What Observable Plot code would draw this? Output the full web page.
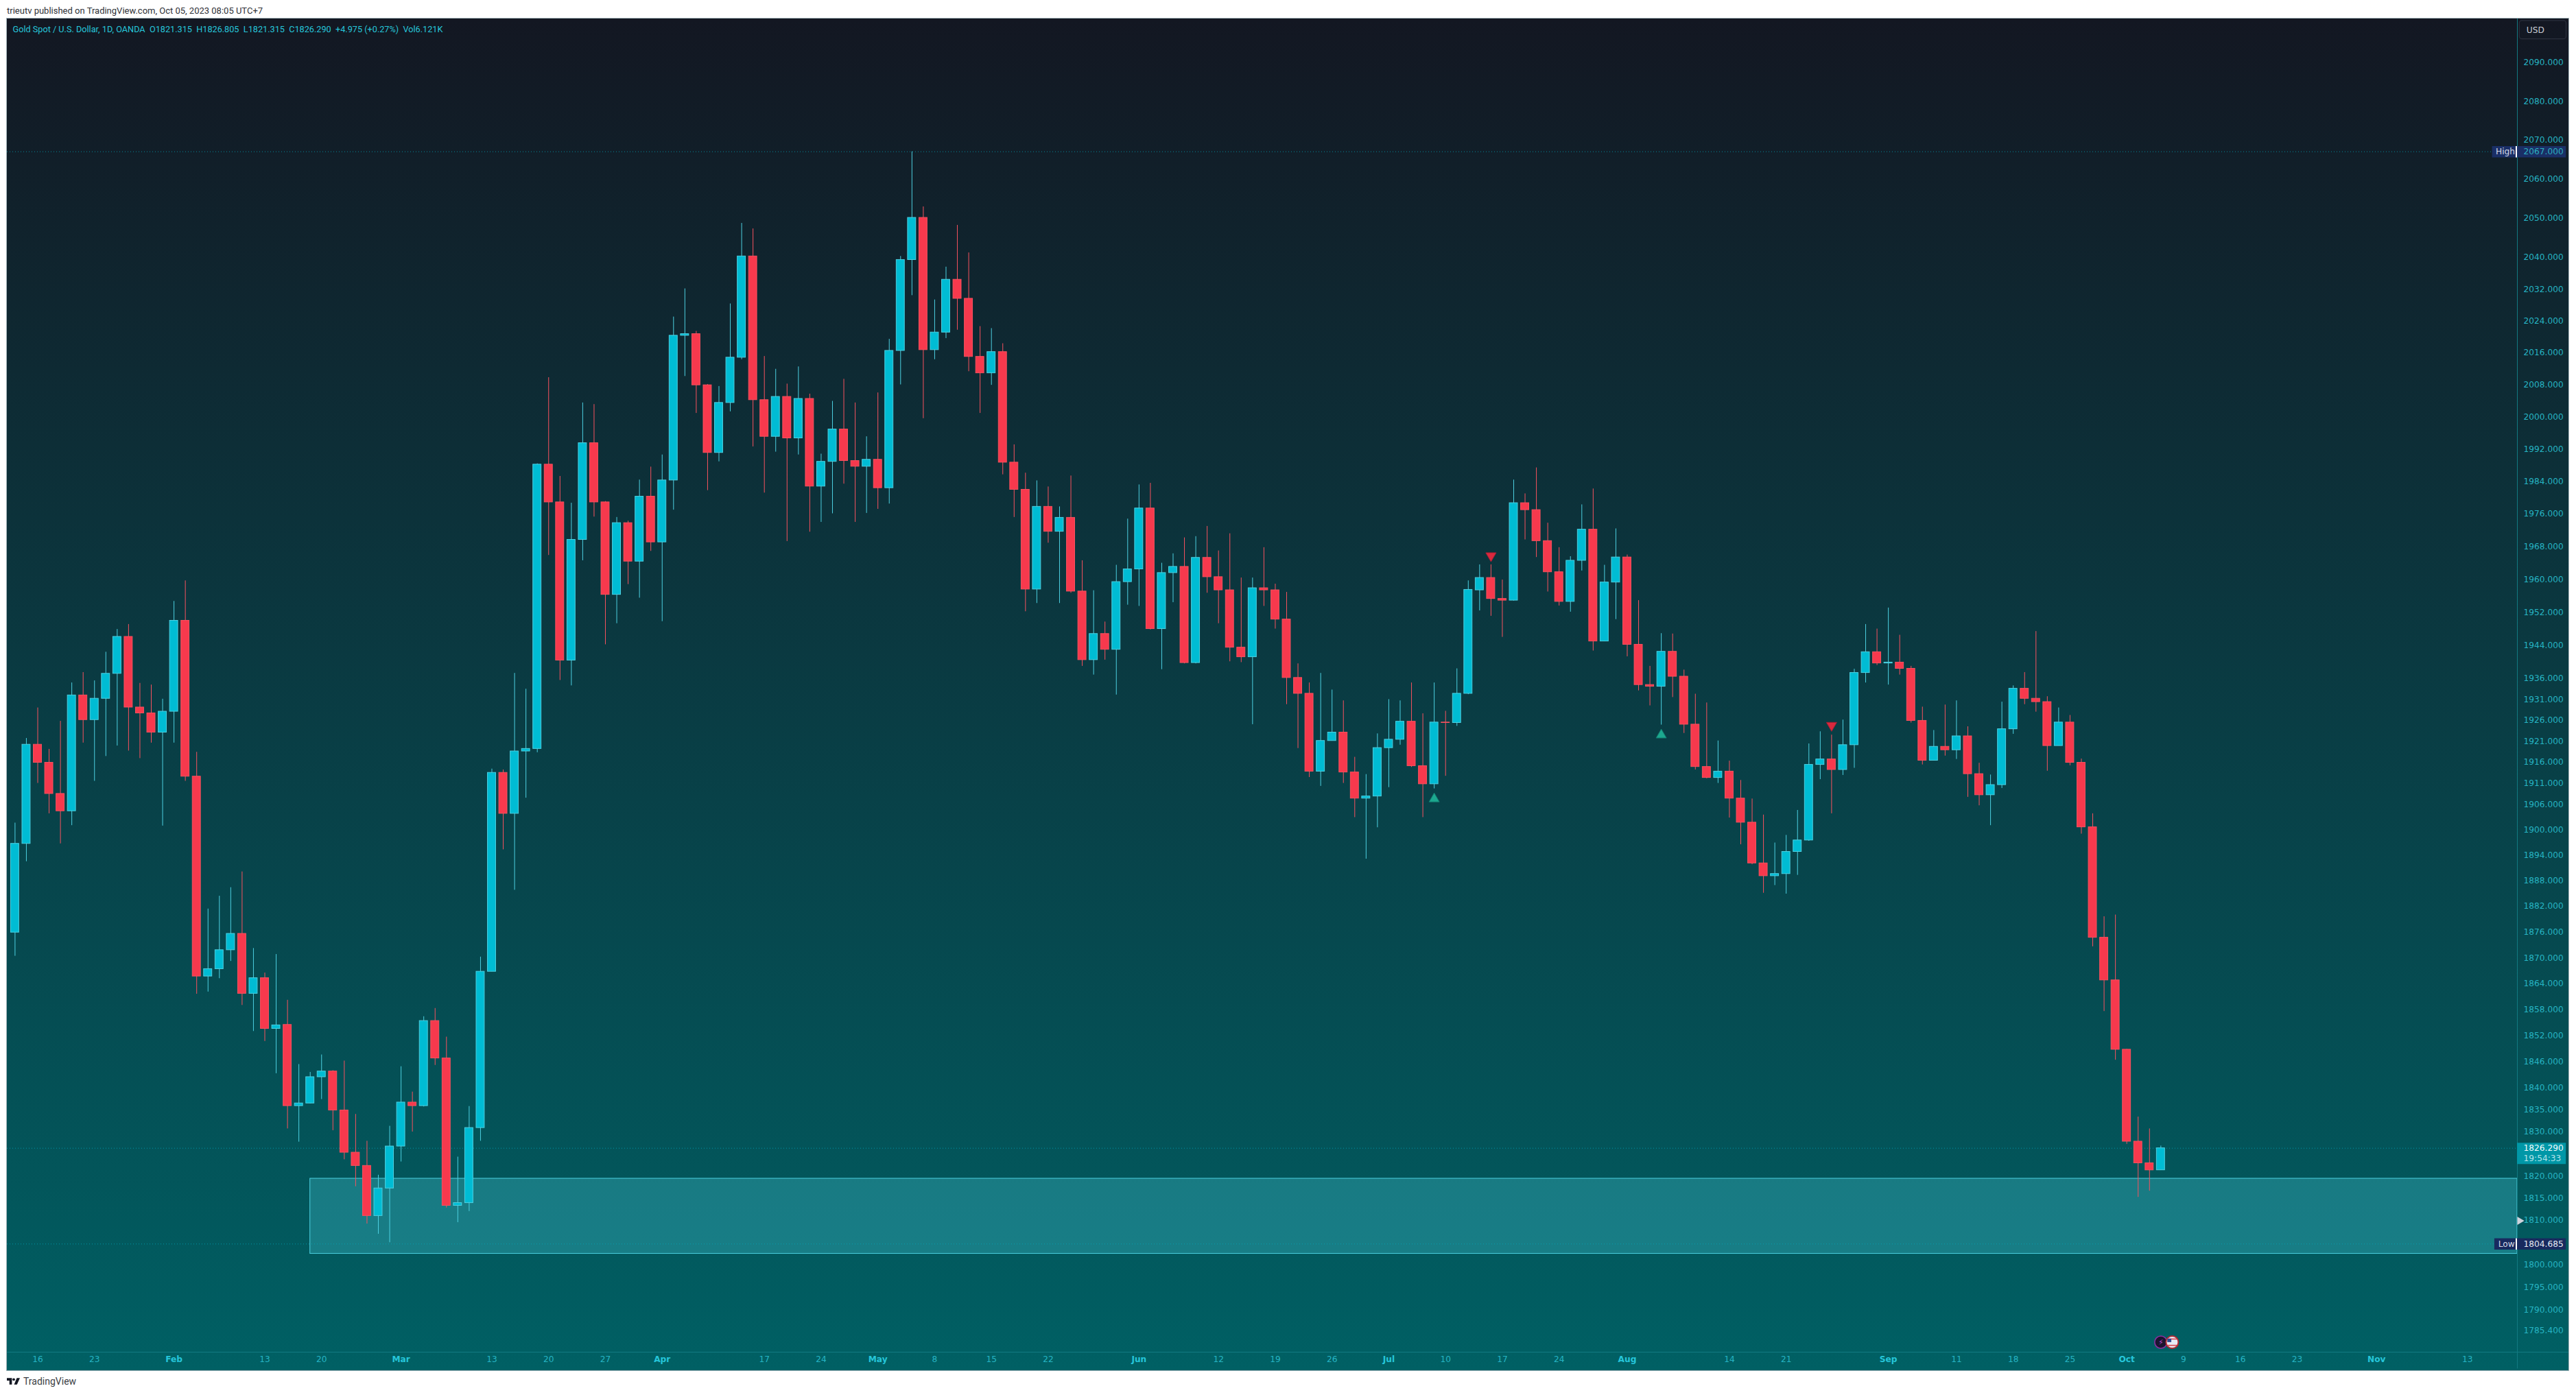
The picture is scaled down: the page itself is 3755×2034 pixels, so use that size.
<!DOCTYPE html>
<html>
<head>
<meta charset="utf-8">
<script src="https://cdn.jsdelivr.net/npm/d3@7"></script>
<script src="https://cdn.jsdelivr.net/npm/@observablehq/plot@0.6"></script>
<style>
html,body{margin:0;padding:0;background:#fff;width:3755px;height:2034px;overflow:hidden}
#head{height:27px;padding-left:10px;font:13px/32px Roboto,sans-serif;color:#2f3238;white-space:pre;box-sizing:border-box}
#chart{margin-left:10px;width:3734px;height:1971px;outline:1px solid #a5b5bb}
#chart svg{display:block}
#foot{height:32px;padding-left:10px;display:flex;align-items:center;gap:5px;font:14px Roboto,sans-serif;color:#3a3d44}
</style>
</head>
<body>
<div id="head">trieutv published on TradingView.com, Oct 05, 2023 08:05 UTC+7</div>
<div id="chart"></div>
<div id="foot"><svg width="19" height="10" viewBox="0 0 36 18"><path fill="#131722" d="M14 18H7V7H0V0h14zM28 18h-8L27.5 0H36z"/><circle cx="19" cy="4" r="3.6" fill="#131722"/></svg><span>TradingView</span></div>
<script>
const opens=[1875.9,1896.7,1920.2,1915.9,1908.5,1904.4,1932.0,1926.1,1931.2,1937.2,
1946.1,1929.1,1927.7,1923.1,1928.1,1950.0,1912.6,1865.7,1867.4,1871.8,
1875.6,1861.7,1865.3,1853.6,1854.5,1835.9,1836.5,1842.5,1843.8,1834.9,
1825.3,1822.3,1811.0,1817.2,1826.7,1836.7,1835.9,1855.4,1846.8,1813.3,
1813.9,1830.9,1866.8,1913.5,1903.8,1918.6,1919.2,1988.2,1978.9,1940.4,
1969.7,1993.5,1978.9,1956.3,1973.8,1964.4,1980.3,1969.1,1984.3,2020.3,
2020.7,2007.9,1991.1,2003.5,2014.8,2040.3,2004.2,1995.1,2005.0,1994.7,
2004.5,1982.8,1988.9,1996.9,1989.1,1987.7,1989.4,1982.4,2016.5,2039.4,
2050.1,2016.7,2021.1,2034.4,2029.6,2015.0,2010.9,2016.2,1988.7,1982.0,
1957.6,1977.8,1971.7,1975.1,1957.1,1940.5,1946.8,1943.0,1959.4,1962.5,
1977.4,1948.0,1961.6,1963.1,1939.8,1965.3,1960.6,1957.4,1943.5,1941.2,
1957.9,1957.4,1950.3,1936.2,1932.4,1913.8,1921.1,1923.1,1913.6,1907.4,
1907.9,1919.4,1921.4,1925.7,1915.1,1910.8,1925.5,1925.4,1932.4,1957.4,
1960.4,1955.3,1954.9,1978.7,1977.0,1969.4,1961.8,1954.6,1964.6,1972.2,
1945.0,1959.3,1965.4,1944.2,1934.5,1934.1,1942.5,1936.5,1925.0,1914.9,
1912.3,1913.8,1907.4,1901.7,1892.1,1889.1,1889.6,1894.8,1897.5,1915.4,
1916.7,1914.2,1920.1,1937.4,1942.4,1939.7,1939.9,1938.4,1925.9,1916.4,
1919.7,1918.9,1922.2,1913.2,1908.2,1910.6,1923.9,1933.6,1931.2,1930.4,
1919.9,1925.5,1915.9,1900.6,1874.7,1864.8,1848.8,1827.8,1822.9,1821.315];
const closes=[1896.7,1920.2,1915.9,1908.5,1904.4,1932.0,1926.1,1931.2,1937.2,1946.1,
1929.1,1927.7,1923.1,1928.1,1950.0,1912.6,1865.7,1867.4,1871.8,1875.6,
1861.7,1865.3,1853.6,1854.4,1835.9,1836.5,1842.5,1843.8,1834.9,1825.3,
1822.3,1811.0,1817.2,1826.7,1836.7,1835.9,1855.4,1846.8,1813.3,1813.9,
1830.9,1866.8,1913.5,1903.8,1918.6,1919.2,1988.2,1978.9,1940.4,1969.7,
1993.5,1978.9,1956.3,1973.8,1964.4,1980.3,1969.1,1984.3,2020.3,2020.7,
2007.9,1991.1,2003.5,2014.8,2040.3,2004.2,1995.1,2005.0,1994.7,2004.5,
1982.8,1988.9,1996.9,1989.1,1987.7,1989.4,1982.4,2016.5,2039.4,2050.1,
2016.7,2021.1,2034.4,2029.6,2015.0,2010.9,2016.2,1988.7,1982.0,1957.6,
1977.8,1971.7,1975.1,1957.1,1940.5,1946.8,1943.0,1959.4,1962.5,1977.4,
1948.0,1961.6,1963.1,1939.8,1965.3,1960.6,1957.4,1943.5,1941.2,1957.9,
1957.4,1950.3,1936.2,1932.4,1913.8,1921.1,1923.1,1913.6,1907.4,1907.9,
1919.4,1921.4,1925.7,1915.1,1910.8,1925.5,1925.4,1932.4,1957.5,1960.4,
1955.3,1954.9,1978.7,1977.0,1969.4,1961.8,1954.6,1964.6,1972.2,1945.0,
1959.3,1965.4,1944.2,1934.5,1934.1,1942.5,1936.5,1925.0,1914.9,1912.3,
1913.8,1907.4,1901.7,1892.1,1889.1,1889.6,1894.8,1897.5,1915.4,1916.7,
1914.2,1920.1,1937.4,1942.4,1939.7,1939.9,1938.4,1925.9,1916.4,1919.7,
1918.9,1922.2,1913.2,1908.2,1910.6,1923.9,1933.6,1931.2,1930.4,1919.9,
1925.5,1915.9,1900.6,1874.7,1864.8,1848.8,1827.8,1822.9,1821.3,1826.29];
const highs=[1901.6,1921.7,1929.0,1919.1,1925.8,1935.0,1937.5,1935.5,1942.4,1947.9,
1949.1,1934.9,1934.5,1931.1,1954.7,1959.7,1918.4,1881.4,1884.4,1886.4,
1890.1,1872.2,1866.5,1870.8,1860.2,1845.4,1843.6,1847.6,1844.0,1846.2,
1834.0,1827.9,1820.2,1831.3,1844.9,1839.1,1856.4,1858.3,1851.7,1824.3,
1835.8,1870.2,1914.4,1914.2,1937.3,1933.5,1988.4,2009.8,1985.3,1978.7,
2003.5,2003.1,1979.1,1975.2,1974.3,1984.4,1987.6,1990.6,2025.0,2032.1,
2021.4,2008.1,2007.6,2028.3,2048.7,2047.3,2015.1,2011.9,2008.2,2012.5,
2005.7,1990.8,2003.9,2009.4,2003.5,1995.1,2006.0,2019.4,2040.3,2067.0,
2052.9,2029.3,2037.6,2048.2,2041.2,2022.6,2022.1,2018.3,1993.1,1986.1,
1984.2,1982.7,1977.8,1985.4,1964.6,1957.3,1949.7,1963.5,1974.8,1983.2,
1983.6,1964.0,1966.3,1970.2,1970.5,1973.0,1967.0,1971.2,1960.4,1960.4,
1967.8,1958.9,1956.9,1939.6,1935.0,1937.3,1933.3,1930.7,1917.2,1913.1,
1922.8,1931.0,1930.7,1935.0,1927.6,1935.0,1928.2,1938.4,1959.7,1963.6,
1963.6,1959.9,1984.4,1981.0,1987.4,1973.8,1967.8,1965.6,1978.3,1982.2,
1963.5,1972.4,1966.0,1954.9,1939.0,1946.9,1946.8,1938.1,1932.3,1930.2,
1921.1,1916.3,1911.7,1907.3,1903.5,1896.9,1898.7,1904.6,1920.4,1923.3,
1922.5,1926.1,1938.3,1949.1,1948.0,1953.1,1946.5,1939.0,1929.2,1923.6,
1929.7,1930.7,1924.5,1915.8,1913.0,1930.4,1934.3,1937.5,1947.4,1931.7,
1929.0,1927.2,1916.8,1903.8,1879.6,1880.0,1848.9,1833.4,1830.7,1826.805];
const lows=[1870.4,1892.5,1911.0,1903.8,1896.7,1901.0,1920.6,1911.5,1917.4,1919.9,
1918.7,1916.9,1920.6,1900.9,1920.6,1911.5,1861.6,1862.1,1865.2,1869.2,
1859.0,1853.0,1850.7,1843.3,1830.7,1827.7,1836.4,1837.4,1830.3,1823.7,
1817.6,1809.2,1806.9,1805.0,1823.2,1830.0,1835.7,1845.2,1812.8,1809.5,
1812.0,1827.9,1866.8,1895.3,1885.8,1907.5,1918.3,1965.9,1935.6,1934.3,
1964.6,1975.3,1944.2,1949.3,1958.8,1955.5,1966.9,1949.8,1977.0,2010.1,
2000.9,1981.8,1988.9,2001.3,2014.3,1992.6,1981.2,1991.3,1969.3,1990.6,
1971.6,1974.0,1976.1,1983.4,1974.0,1976.2,1977.2,1978.5,2008.0,2030.4,
1999.6,2014.3,2019.6,2021.7,2011.3,2000.9,2007.9,1985.7,1975.2,1952.2,
1954.2,1968.9,1954.2,1956.7,1939.0,1936.9,1940.5,1932.1,1953.8,1953.5,
1947.8,1938.2,1954.4,1939.6,1939.6,1956.7,1949.3,1940.1,1939.9,1925.0,
1953.5,1948.0,1929.8,1919.3,1912.4,1910.3,1921.1,1911.0,1902.9,1893.1,
1900.5,1910.0,1920.1,1914.8,1902.9,1909.7,1912.7,1924.6,1932.2,1952.4,
1951.1,1946.0,1954.8,1969.7,1965.4,1957.0,1953.6,1952.1,1962.1,1942.7,
1945.0,1950.3,1941.3,1933.1,1929.5,1924.9,1931.5,1922.9,1914.2,1912.1,
1911.0,1902.8,1896.5,1891.8,1885.1,1886.9,1884.9,1889.3,1897.3,1911.9,
1903.8,1912.9,1914.6,1935.0,1939.2,1934.5,1936.9,1925.4,1915.4,1916.4,
1917.5,1916.7,1907.7,1905.7,1901.0,1909.8,1922.7,1929.8,1928.0,1913.9,
1919.9,1915.2,1899.0,1872.6,1857.6,1846.4,1827.2,1815.2,1816.6,1821.315];

const priceTicks=[2090,2080,2070,2060,2050,2040,2032,2024,2016,2008,2000,1992,1984,1976,1968,1960,1952,1944,1936,1931,1926,1921,1916,1911,1906,1900,1894,1888,1882,1876,1870,1864,1858,1852,1846,1840,1835,1830,1820,1815,1810,1800,1795,1790,1785.4];
const minorTickBars=[2,7,22,27,42,47,52,66,71,81,86,91,106,111,116,126,131,136,151,156,171,176,181,191,196,201,216];
const minorTickLabels=["16","23","13","20","13","20","27","17","24","8","15","22","12","19","26","10","17","24","14","21","11","18","25","9","16","23","13"];
const monthTickBars=[14,34,57,76,99,121,142,165,186,208];
const monthTickLabels=["Feb","Mar","Apr","May","Jun","Jul","Aug","Sep","Oct","Nov"];
const sellFlagBars=[130,160], sellFlagPrices=[1965.8,1924.8];
const buyFlagBars=[125,145], buyFlagPrices=[1907.3,1922.5];
const zoneTop=1819.4, zoneBottom=1802.5, zoneStartBar=26;
const highPrice=2067, lowPrice=1804.685, lastPrice=1826.29;
const legendText="Gold Spot / U.S. Dollar, 1D, OANDA  O1821.315  H1826.805  L1821.315  C1826.290  +4.975 (+0.27%)  Vol6.121K";

const priceMax=2101.4, priceMin=1780.6, priceBottomEdge=1776.9;
const axisBar=220.4, edgeBar=224.93, boxEndBar=224.7;

const candles=opens.map((o,i)=>({i,o,c:closes[i],h:highs[i],l:lows[i],up:closes[i]>=o}));
const UPF="#00bcd4",UPS="#4dd0e1",DNF="#f7394d",DNS="#f7525f";
const TICK="#26b4c3";
const font="'DejaVu Sans',sans-serif";
const sep="#127a82";
const minorMap=new Map(minorTickBars.map((b,i)=>[b,minorTickLabels[i]])), monthMap=new Map(monthTickBars.map((b,i)=>[b,monthTickLabels[i]]));

const fmt=d=>d.toFixed(3);
const AXF=12.2;
const chart=Plot.plot({
  width:3734,height:1971,marginLeft:0,marginRight:75,marginTop:0,marginBottom:27,
  style:{background:"linear-gradient(180deg,#131722 0%,#006064 100%)",fontFamily:font,fontSize:AXF+"px",overflow:"visible"},
  x:{type:"linear",domain:[-0.689,axisBar],axis:null},
  y:{type:"log",domain:[priceMin,priceMax],axis:null},
  marks:[
    Plot.rect([0],{x1:zoneStartBar,x2:axisBar,y1:zoneBottom,y2:zoneTop,fill:"#4dd0e1",fillOpacity:.3,stroke:"#4dd0e1",strokeWidth:1}),
    Plot.ruleY([highPrice,lowPrice,lastPrice],{x1:-0.689,x2:axisBar,stroke:"#00acc1",strokeOpacity:.75,strokeDasharray:"1 3",strokeWidth:1}),
    Plot.ruleX([axisBar],{y1:priceMax,y2:priceBottomEdge,stroke:sep,strokeWidth:1}),
    Plot.ruleY([priceMin],{x1:-0.689,x2:edgeBar,stroke:sep,strokeWidth:1}),
    Plot.ruleX(candles,{x:"i",y1:"l",y2:"h",stroke:d=>d.up?UPS:DNS,strokeWidth:1}),
    Plot.rect(candles,{x1:d=>d.i-.36,x2:d=>d.i+.36,y1:"o",y2:"c",fill:d=>d.up?UPF:DNF,stroke:d=>d.up?UPS:DNS,strokeWidth:1}),
    Plot.dot(sellFlagBars.map((b,i)=>({b,p:sellFlagPrices[i]})),{x:"b",y:"p",symbol:"triangle",r:5.6,rotate:180,fill:"#d9293e",stroke:"#a81f33",strokeWidth:1}),
    Plot.dot(buyFlagBars.map((b,i)=>({b,p:buyFlagPrices[i]})),{x:"b",y:"p",symbol:"triangle",r:5.6,fill:"#1ca88f",stroke:"#137a6e",strokeWidth:1}),
    Plot.axisY(priceTicks,{anchor:"right",tickSize:0,tickPadding:9,tickFormat:fmt,color:TICK,fontSize:AXF}),
    Plot.axisX(minorTickBars,{anchor:"bottom",tickSize:0,tickPadding:6,tickFormat:d=>minorMap.get(d),color:TICK,fontSize:AXF}),
    Plot.axisX(monthTickBars,{anchor:"bottom",tickSize:0,tickPadding:6,tickFormat:d=>monthMap.get(d),color:"#26c6da",fontSize:AXF,fontWeight:"bold"}),
    Plot.ruleY([highPrice],{x1:218.2,x2:boxEndBar,stroke:"#1a2f66",strokeWidth:16.5}),
    Plot.ruleY([lowPrice],{x1:218.4,x2:boxEndBar,stroke:"#182a5f",strokeWidth:16.5}),
    Plot.ruleY([highPrice,lowPrice],{x1:220.28,x2:220.4,stroke:"#fff",strokeWidth:16.5}),
    Plot.ruleY([1825.1],{x1:axisBar,x2:boxEndBar,stroke:"#0097a7",strokeWidth:31}),
    Plot.text(["High"],{x:218.5,y:highPrice,textAnchor:"start",fill:"#d6dbe6",fontSize:AXF}),
    Plot.text(["Low"],{x:218.72,y:lowPrice,textAnchor:"start",fill:"#d6dbe6",fontSize:AXF}),
    Plot.text([highPrice],{x:220.95,y:d=>d,text:fmt,textAnchor:"start",fill:"#2cb0bf",fontSize:AXF}),
    Plot.text([lowPrice],{x:220.95,y:d=>d,text:fmt,textAnchor:"start",fill:"#e6eaf2",fontSize:AXF}),
    Plot.text([lastPrice],{x:220.95,y:d=>d,text:d=>"1826.290",textAnchor:"start",fill:"#f2fbfc",fontSize:AXF}),
    Plot.text(["19:54:33"],{x:220.95,y:lastPrice,dy:14.5,textAnchor:"start",fill:"#b5e3e9",fontSize:AXF}),
    Plot.dot([1809.9],{x:220.6,y:d=>d,symbol:"triangle",r:4.4,rotate:90,fill:"#cfd3dd"}),
    Plot.rect([0],{x1:220.6,x2:224.72,y1:2096.1,y2:2100.9,fill:"none",stroke:"#2a2f3c",strokeWidth:1.2,rx:4}),
    Plot.text(["USD"],{x:221.2,y:2098.5,textAnchor:"start",fill:"#c9ccd4",fontSize:AXF}),
    Plot.dot([189],{x:d=>d,y:1782.8,r:9,fill:"#1b1530",stroke:"#8a2fa0",strokeWidth:1.6}),
    Plot.text(["\u26A1"],{x:189,y:1782.8,fill:"#b04ac8",fontSize:11}),
    Plot.dot([190],{x:d=>d,y:1782.8,r:9,fill:"#e6ebf5",stroke:"#b12a33",strokeWidth:2}),
    Plot.ruleY([1782.1,1783.5],{x1:189.6,x2:190.45,stroke:"#d9434d",strokeWidth:1.6}),
    Plot.ruleY([1783.2],{x1:189.6,x2:189.95,stroke:"#2c4a96",strokeWidth:5}),
    Plot.text([legendText],{frameAnchor:"top-left",dx:8,dy:10,fill:"#26c6da",fontSize:12.7,fontFamily:"Roboto,sans-serif",textAnchor:"start"})
  ]
});
document.getElementById("chart").append(chart);
</script>
</body>
</html>
